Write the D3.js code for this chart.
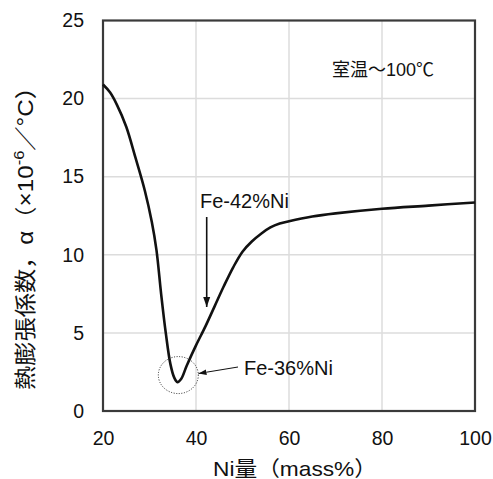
<!DOCTYPE html>
<html>
<head>
<meta charset="utf-8">
<script src="https://cdn.jsdelivr.net/npm/d3@7"></script>
<style>
  html, body { margin: 0; padding: 0; background: #fff; }
  text { font-family: Arial, "Liberation Sans", "Noto Sans CJK JP", sans-serif; fill: #111; }
</style>
</head>
<body>
<svg id="chart" width="493" height="479"></svg>
<script>
// Ni content (mass%) and thermal expansion coefficient (×10^-6/°C), room temp to 100°C
const niContent = [20, 21.5, 23, 25, 27, 29, 30.5, 31.5, 32.5, 33.5, 34.5, 35.3, 36, 36.8, 38, 40, 42, 44, 46, 48, 50, 52, 54, 56, 58, 60, 65, 70, 80, 90, 100];
const alphaValues = [20.9, 20.4, 19.6, 18.2, 16.2, 14.1, 12.1, 10.3, 7.5, 5.0, 3.0, 2.15, 1.85, 2.05, 2.9, 4.2, 5.4, 6.7, 8.0, 9.2, 10.2, 10.85, 11.35, 11.75, 12.0, 12.15, 12.45, 12.65, 12.95, 13.15, 13.35];
const xTicks = [20, 40, 60, 80, 100];
const yTicks = [0, 5, 10, 15, 20, 25];

const svg = d3.select("#chart");
const m = { left: 103, right: 475, top: 20.5, bottom: 411 };

const x = d3.scaleLinear().domain([20, 100]).range([m.left, m.right]);
const y = d3.scaleLinear().domain([0, 25]).range([m.bottom, m.top]);

// grid
const grid = svg.append("g");
grid.selectAll("line.v").data(xTicks.slice(1, -1)).join("line")
  .attr("x1", d => x(d)).attr("x2", d => x(d))
  .attr("y1", m.top).attr("y2", m.bottom)
  .attr("stroke", "#dcdcdc").attr("stroke-width", 1.5);
grid.selectAll("line.h").data(yTicks.slice(1, -1)).join("line")
  .attr("y1", d => y(d)).attr("y2", d => y(d))
  .attr("x1", m.left).attr("x2", m.right)
  .attr("stroke", "#dcdcdc").attr("stroke-width", 1.5);

// axes (labels only)
const xAxis = svg.append("g").attr("transform", `translate(0,${m.bottom})`)
  .call(d3.axisBottom(x).tickValues(xTicks).tickSize(0).tickPadding(20));
const yAxis = svg.append("g").attr("transform", `translate(${m.left},0)`)
  .call(d3.axisLeft(y).tickValues(yTicks).tickSize(0).tickPadding(19));
[xAxis, yAxis].forEach(a => {
  a.select(".domain").remove();
  a.selectAll("text").attr("font-size", 19.5).attr("fill", "#111")
    .attr("font-family", "Arial, 'Liberation Sans', sans-serif");
});

// plot frame
svg.append("rect")
  .attr("x", m.left).attr("y", m.top)
  .attr("width", m.right - m.left).attr("height", m.bottom - m.top)
  .attr("fill", "none").attr("stroke", "#3a3a3a").attr("stroke-width", 2.2);

// curve
const pts = niContent.map((n, i) => [n, alphaValues[i]]);
const line = d3.line().x(d => x(d[0])).y(d => y(d[1])).curve(d3.curveCatmullRom.alpha(0.5));
svg.append("path").datum(pts)
  .attr("d", line)
  .attr("fill", "none").attr("stroke", "#111").attr("stroke-width", 2.6)
  .attr("stroke-linejoin", "round");

// arrow markers
const defs = svg.append("defs");
defs.append("marker").attr("id", "headBig")
  .attr("viewBox", "0 0 10 10").attr("refX", 10).attr("refY", 5)
  .attr("markerWidth", 10).attr("markerHeight", 10).attr("markerUnits", "userSpaceOnUse")
  .attr("orient", "auto")
  .append("path").attr("d", "M0,1.5 L10,5 L0,8.5 Z").attr("fill", "#111");
defs.append("marker").attr("id", "headSmall")
  .attr("viewBox", "0 0 10 10").attr("refX", 10).attr("refY", 5)
  .attr("markerWidth", 8).attr("markerHeight", 8).attr("markerUnits", "userSpaceOnUse")
  .attr("orient", "auto")
  .append("path").attr("d", "M0,1.5 L10,5 L0,8.5 Z").attr("fill", "#111");

// Fe-42%Ni annotation
svg.append("text").attr("x", 200).attr("y", 208).attr("font-size", 20).text("Fe-42%Ni");
svg.append("line")
  .attr("x1", 206.7).attr("y1", 217).attr("x2", 206.7).attr("y2", 307)
  .attr("stroke", "#111").attr("stroke-width", 1.6)
  .attr("marker-end", "url(#headBig)");

// Fe-36%Ni annotation with dotted circle at the minimum
svg.append("ellipse")
  .attr("cx", x(36.2)).attr("cy", y(2.3)).attr("rx", 20).attr("ry", 18.5)
  .attr("fill", "none").attr("stroke", "#222").attr("stroke-width", 1)
  .attr("stroke-dasharray", "1,1.6");
svg.append("line")
  .attr("x1", 238).attr("y1", 367).attr("x2", 198.5).attr("y2", 373.5)
  .attr("stroke", "#111").attr("stroke-width", 1)
  .attr("marker-end", "url(#headSmall)");
svg.append("text").attr("x", 244).attr("y", 375).attr("font-size", 20).text("Fe-36%Ni");

// temperature range label
svg.append("text").attr("x", 332).attr("y", 76).attr("font-size", 18).text("室温～100℃");

// axis titles
svg.append("text").attr("x", 213).attr("y", 476)
  .attr("font-size", 21)
  .attr("textLength", 164).attr("lengthAdjust", "spacingAndGlyphs")
  .text("Ni量（mass%）");

const yt = svg.append("text")
  .attr("transform", "translate(33,390) rotate(-90)")
  .attr("font-size", 22)
  .attr("textLength", 315).attr("lengthAdjust", "spacingAndGlyphs");
yt.append("tspan").text("熱膨張係数，α（×10");
yt.append("tspan").attr("dy", -9).attr("font-size", 15).text("-6");
yt.append("tspan").attr("dy", 9).text("／°C）");
</script>
</body>
</html>
